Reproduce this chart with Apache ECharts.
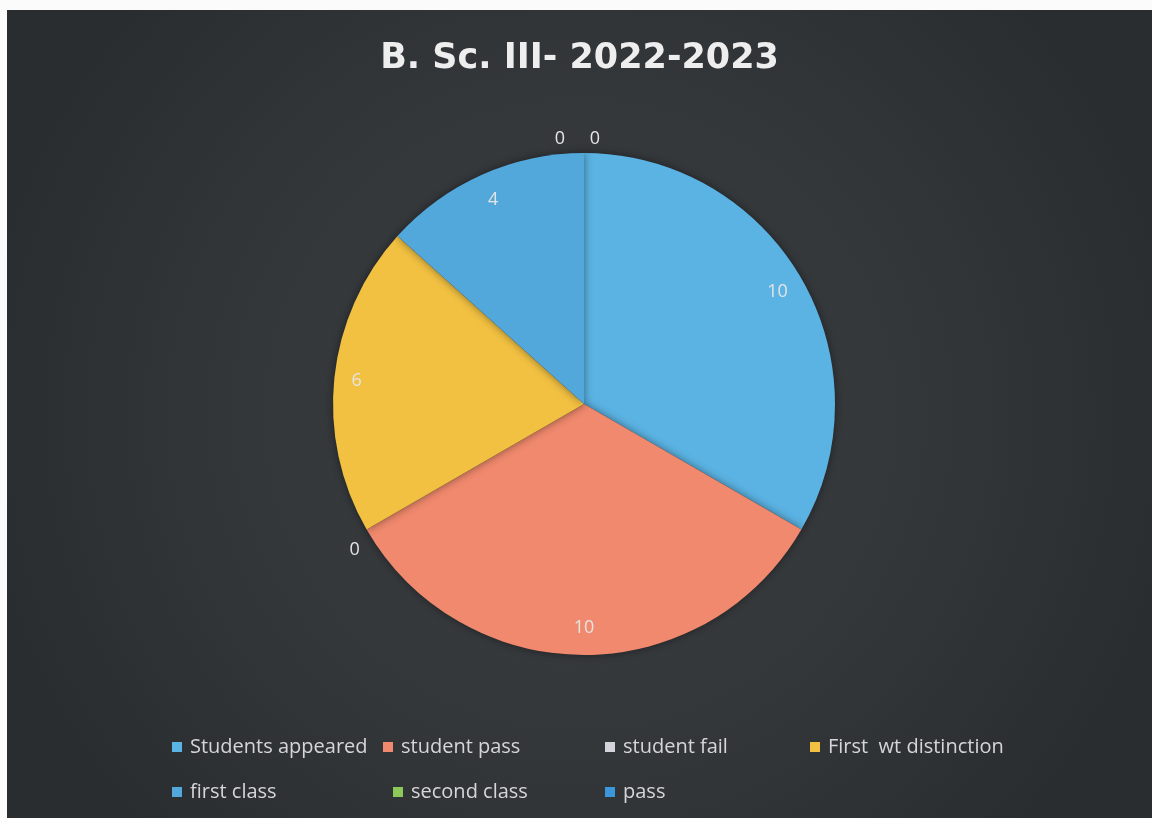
<!DOCTYPE html>
<html>
<head>
<meta charset="utf-8">
<script src="https://cdn.jsdelivr.net/npm/echarts@6/dist/echarts.min.js"></script>
<style>
html,body{margin:0;padding:0;background:#fbfbfb;width:1152px;height:818px;overflow:hidden;}
#chart{position:absolute;left:7px;top:10px;width:1145px;height:808px;}
</style>
</head>
<body>
<div id="chart"></div>
<script>
// ---- data ----
const titleText = 'B. Sc. III- 2022-2023';
const categories = ['Students appeared', 'student pass', 'student fail', 'First  wt distinction', 'first class', 'second class', 'pass'];
const values = [10, 10, 0, 6, 4, 0, 0];
const colors = ['#5bb3e3', '#f0896d', '#d3d3db', '#f2c142', '#52a7db', '#8dc85a', '#3b97dc'];

// legend layout (two rows, Excel-like columns)
const legendLeft = [165, 376, 598, 803, 165, 386, 598];
const legendTop = [727, 727, 727, 727, 772, 772, 772];

const chart = echarts.init(document.getElementById('chart'), null, {renderer: 'canvas'});

const fontFam = '"Open Sans", "Noto Sans", sans-serif';

const legends = categories.map((c, i) => ({
  data: [c],
  left: legendLeft[i],
  top: legendTop[i],
  padding: 0,
  icon: 'rect',
  itemWidth: 10,
  itemHeight: 10,
  itemGap: 0,
  selectedMode: false,
  textStyle: {color: '#d6d6d6', fontSize: 20, fontFamily: fontFam, padding: [0, 0, 0, 3]}
}));

const pieData = categories.map((c, i) => ({
  name: c, value: values[i], itemStyle: {color: colors[i]}
}));

const labelData = categories.map((c, i) => ({
  name: c, value: values[i],
  itemStyle: {color: 'rgba(0,0,0,0)'},
  label: values[i] === 0 ? {position: 'outside'} : {position: 'inside'},
  labelLine: {show: false}
}));

chart.setOption({
  backgroundColor: {
    type: 'radial', x: 0.5, y: 0.5, r: 0.75,
    colorStops: [
      {offset: 0, color: '#3c3f42'},
      {offset: 0.6, color: '#333639'},
      {offset: 1, color: '#2a2d30'}
    ]
  },
  title: {
    text: titleText,
    left: 'center',
    top: 26,
    textStyle: {color: '#eeeeee', fontSize: 35, fontWeight: 'bold', fontFamily: '"DejaVu Sans", sans-serif'}
  },
  legend: legends,
  series: [
    {
      type: 'pie',
      center: [577, 394],
      radius: 251,
      startAngle: 90,
      clockwise: true,
      silent: true,
      label: {show: false},
      labelLine: {show: false},
      itemStyle: {shadowBlur: 8, shadowColor: 'rgba(0,0,0,0.45)'},
      data: pieData
    },
    {
      type: 'pie',
      center: [577, 394],
      radius: [190, 251],
      startAngle: 90,
      clockwise: true,
      silent: true,
      avoidLabelOverlap: false,
      legendHoverLink: false,
      label: {
        show: true,
        color: '#e4e4e4',
        fontSize: 18,
        fontFamily: fontFam,
        formatter: '{c}'
      },
      labelLine: {show: false, length: 8, length2: 0},
      labelLayout: function (p) {
        if (p.dataIndex === 5) return {dx: -14, dy: -6};
        if (p.dataIndex === 6) return {dx: 21, dy: -6};
        if (p.dataIndex === 2) return {dx: 5, dy: 16};
        if (p.dataIndex === 3) return {dx: -5, dy: 0};
        return {};
      },
      data: labelData
    }
  ]
});
</script>
</body>
</html>
